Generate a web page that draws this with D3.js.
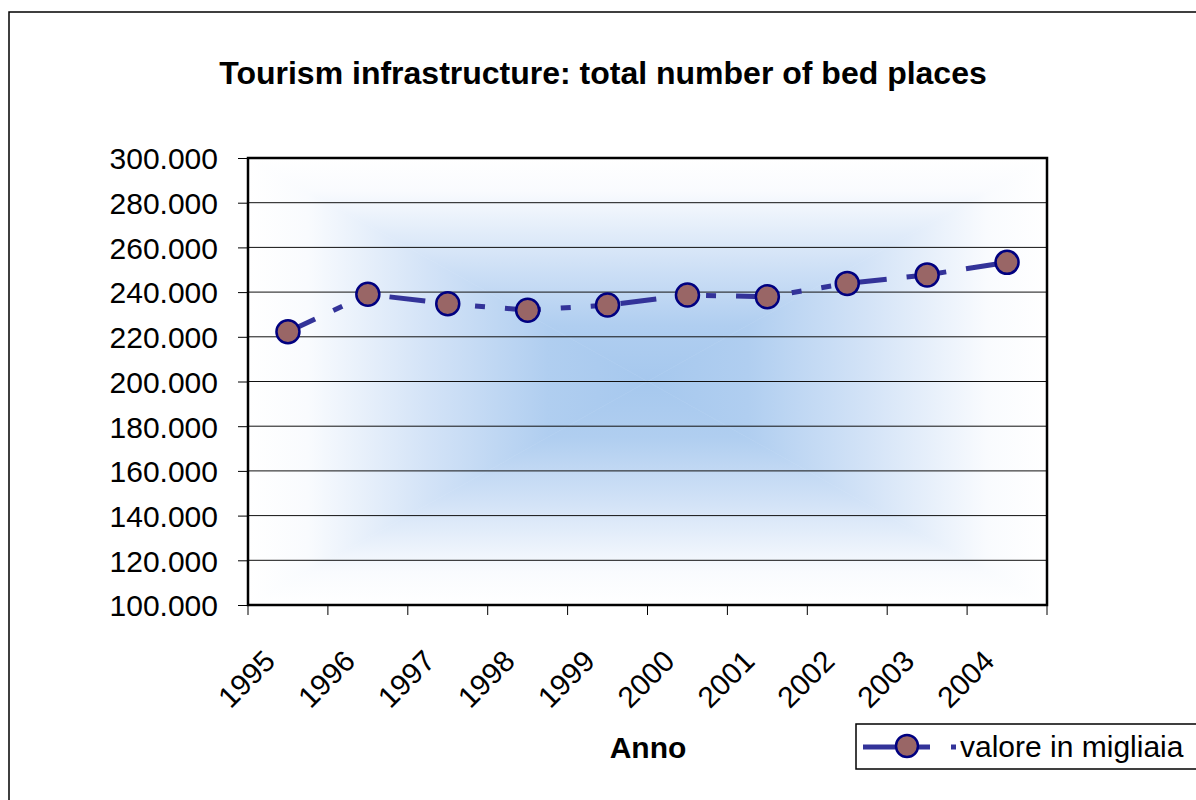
<!DOCTYPE html>
<meta charset="utf-8">
<style>
body { margin: 0; background: #fff; }
text { font-family: "Liberation Sans", Arial, sans-serif; }
</style>
<svg width="1196" height="800"></svg>
<script src="https://cdn.jsdelivr.net/npm/d3@7"></script>
<script>

// data (bed places)
var years = ["1995", "1996", "1997", "1998", "1999", "2000", "2001", "2002", "2003", "2004"];
var beds = [222300, 239000, 234800, 231900, 234200, 238700, 237900, 243900, 247700, 253300];
var yTicks = [100000, 120000, 140000, 160000, 180000, 200000, 220000, 240000, 260000, 280000, 300000];
var seriesName = "valore in migliaia";

var svg = d3.select("svg"),
    width = +svg.attr("width"),
    height = +svg.attr("height");

var pLeft = 248, pRight = 1047, pTop = 158, pBottom = 605;

var x = d3.scaleBand().domain(years).range([pLeft, pRight]);
var y = d3.scaleLinear().domain([100000, 300000]).range([pBottom, pTop]);

// italian number format 300.000
var it = d3.formatLocale({decimal: ",", thousands: ".", grouping: [3], currency: ["€", ""]});
var fmt = it.format(",.0f");

// outer chart border (runs off the right / bottom)
svg.append("rect")
    .attr("x", 9).attr("y", 12)
    .attr("width", 1300).attr("height", 900)
    .attr("fill", "#fff")
    .attr("stroke", "#000")
    .attr("stroke-width", 1.5);

// box gradient of the plot area, made of 4 triangles
var defs = svg.append("defs");
var cx = (pLeft + pRight) / 2, cy = (pTop + pBottom) / 2;
var sides = [
  {id: "gT", x1: 0, y1: pTop, x2: 0, y2: cy, pts: [[pLeft, pTop], [pRight, pTop], [cx, cy]]},
  {id: "gB", x1: 0, y1: pBottom, x2: 0, y2: cy, pts: [[pLeft, pBottom], [pRight, pBottom], [cx, cy]]},
  {id: "gL", x1: pLeft, y1: 0, x2: cx, y2: 0, pts: [[pLeft, pTop], [pLeft, pBottom], [cx, cy]]},
  {id: "gR", x1: pRight, y1: 0, x2: cx, y2: 0, pts: [[pRight, pTop], [pRight, pBottom], [cx, cy]]}
];
var stops = [[0, "#ffffff"], [0.15, "#f9fbfe"], [0.45, "#d3e3f7"], [0.75, "#b0cef0"], [1, "#a6c8ee"]];
sides.forEach(function(s) {
  var lg = defs.append("linearGradient")
      .attr("id", s.id)
      .attr("gradientUnits", "userSpaceOnUse")
      .attr("x1", s.x1).attr("y1", s.y1)
      .attr("x2", s.x2).attr("y2", s.y2);
  stops.forEach(function(st) {
    lg.append("stop").attr("offset", st[0]).attr("stop-color", st[1]);
  });
});

svg.append("g").selectAll("path")
  .data(sides)
  .enter().append("path")
    .attr("d", function(s) { return "M" + s.pts.join("L") + "Z"; })
    .attr("fill", function(s) { return "url(#" + s.id + ")"; })
    .attr("stroke", function(s) { return "url(#" + s.id + ")"; })
    .attr("stroke-width", 0.6);

// gridlines
svg.append("g").selectAll("line")
  .data(yTicks)
  .enter().append("line")
    .attr("x1", pLeft).attr("x2", pRight)
    .attr("y1", function(d) { return y(d); })
    .attr("y2", function(d) { return y(d); })
    .attr("stroke", "#111")
    .attr("stroke-width", 1);

// y axis
var yAxis = svg.append("g")
    .attr("transform", "translate(" + pLeft + ",0)")
    .call(d3.axisLeft(y).tickValues(yTicks).tickSize(10).tickPadding(20).tickFormat(fmt));
yAxis.select(".domain").remove();
yAxis.selectAll("line").attr("stroke", "#000").attr("stroke-width", 1);
yAxis.selectAll("text")
    .attr("fill", "#000")
    .style("font-size", "30px")
    .attr("dy", "0.36em");

// x axis: tick marks on category boundaries
var bounds = years.map(function(d) { return x(d); }).concat([x.range()[1]]);
svg.append("g").selectAll("line")
  .data(bounds)
  .enter().append("line")
    .attr("x1", function(d) { return d; }).attr("x2", function(d) { return d; })
    .attr("y1", pBottom).attr("y2", pBottom + 10)
    .attr("stroke", "#000")
    .attr("stroke-width", 1);

var xAxis = svg.append("g")
    .attr("transform", "translate(0," + pBottom + ")")
    .call(d3.axisBottom(x).tickSize(0));
xAxis.select(".domain").remove();
xAxis.selectAll("text")
    .attr("fill", "#000")
    .attr("y", 0).attr("dy", 0)
    .attr("transform", "translate(-11,58) rotate(-45)")
    .style("text-anchor", "end")
    .style("font-size", "29.5px");

// plot frame
svg.append("rect")
    .attr("x", pLeft).attr("y", pTop)
    .attr("width", pRight - pLeft).attr("height", pBottom - pTop)
    .attr("fill", "none")
    .attr("stroke", "#000")
    .attr("stroke-width", 2.5);

// series line
var line = d3.line()
    .x(function(d, i) { return x(years[i]) + x.bandwidth() / 2; })
    .y(function(d) { return y(d); });

svg.append("path")
    .datum(beds)
    .attr("d", line)
    .attr("fill", "none")
    .attr("stroke", "#333399")
    .attr("stroke-width", 5)
    .attr("stroke-dasharray", "36,20,10,20,10,20")
    .attr("stroke-dashoffset", 6);

svg.append("g").selectAll("circle")
  .data(beds)
  .enter().append("circle")
    .attr("cx", function(d, i) { return x(years[i]) + x.bandwidth() / 2; })
    .attr("cy", function(d) { return y(d); })
    .attr("r", 11.5)
    .attr("fill", "#996666")
    .attr("stroke", "#000080")
    .attr("stroke-width", 2.5);

// title
svg.append("text")
    .attr("x", 603).attr("y", 84)
    .attr("text-anchor", "middle")
    .attr("font-weight", "bold")
    .style("font-size", "32px")
    .text("Tourism infrastructure: total number of bed places");

// x axis title
svg.append("text")
    .attr("x", 648).attr("y", 758)
    .attr("text-anchor", "middle")
    .attr("font-weight", "bold")
    .style("font-size", "30px")
    .text("Anno");

// legend
var lg = svg.append("g");
lg.append("rect")
    .attr("x", 856).attr("y", 724)
    .attr("width", 400).attr("height", 45)
    .attr("fill", "#fff")
    .attr("stroke", "#000")
    .attr("stroke-width", 1.5);
lg.append("line")
    .attr("x1", 863).attr("x2", 956)
    .attr("y1", 747).attr("y2", 747)
    .attr("stroke", "#333399")
    .attr("stroke-width", 5)
    .attr("stroke-dasharray", "67,21,5");
lg.append("circle")
    .attr("cx", 907).attr("cy", 746)
    .attr("r", 11)
    .attr("fill", "#996666")
    .attr("stroke", "#000080")
    .attr("stroke-width", 2.5);
lg.append("text")
    .attr("x", 960).attr("y", 757)
    .style("font-size", "30px")
    .text(seriesName);

</script>
